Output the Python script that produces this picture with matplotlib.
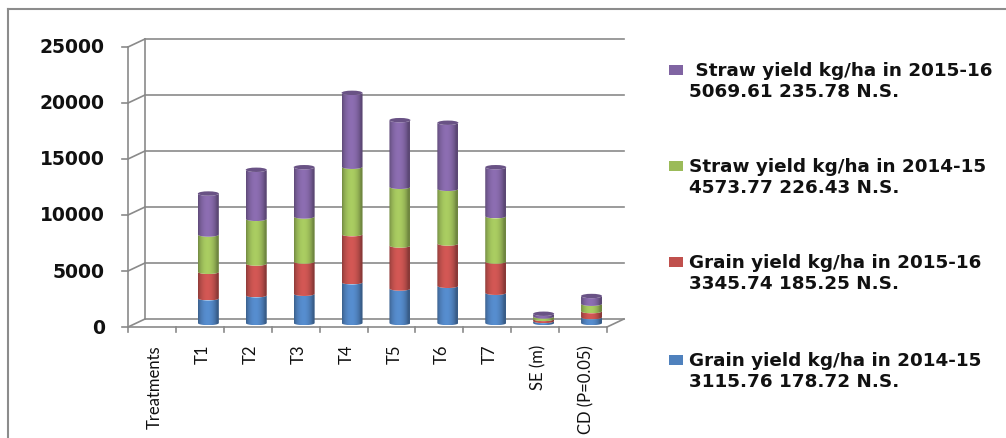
import numpy as np
import matplotlib
matplotlib.use("Agg")
import matplotlib.pyplot as plt
from matplotlib.patches import Polygon, Ellipse
from matplotlib.colors import to_rgb

categories = ["Treatments", "T1", "T2", "T3", "T4", "T5", "T6", "T7", "SE (m)", "CD (P=0.05)"]

grain_1415 = [0, 2210, 2480, 2610, 3640, 3080, 3320, 2700, 178.72, 520]
grain_1516 = [0, 2360, 2830, 2880, 4290, 3840, 3780, 2790, 185.25, 540]
straw_1415 = [0, 3330, 3990, 4020, 6020, 5240, 4880, 4050, 226.43, 660]
straw_1516 = [0, 3660, 4380, 4400, 6600, 5950, 5900, 4370, 235.78, 690]

series = [grain_1415, grain_1516, straw_1415, straw_1516]
colors = ["#4F81BD", "#C0504D", "#9BBB59", "#8064A2"]
legend_lines = [
    ("Grain yield kg/ha in 2014-15", "3115.76 178.72 N.S."),
    ("Grain yield kg/ha in 2015-16", "3345.74 185.25 N.S."),
    ("Straw yield kg/ha in 2014-15", "4573.77 226.43 N.S."),
    (" Straw yield kg/ha in 2015-16", "5069.61 235.78 N.S."),
]
yticks = [0, 5000, 10000, 15000, 20000, 25000]

W, H = 1006, 439
fig = plt.figure(figsize=(W / 100, H / 100), dpi=100)

# front plane of the plot area in pixels
x0, x1 = 128, 607
yb, yt = 328, 48
ax = fig.add_axes([x0 / W, 1 - yb / H, (x1 - x0) / W, (yb - yt) / H])
n = len(categories)
ax.axis("off")

cat_px = (x1 - x0) / n
val_px = (yb - yt) / 25000
dx = 17 / cat_px        # depth offset in category units
dy = 8 / val_px         # depth offset in value units
grid_c = "#8a8a8a"

# back wall gridlines and left wall diagonals
for v in yticks:
    ax.plot([-0.5 + dx, n - 0.5 + dx], [v + dy, v + dy], color=grid_c, lw=1.2, clip_on=False)
    ax.plot([-0.5, -0.5 + dx], [v, v + dy], color=grid_c, lw=1.2, clip_on=False)
    ax.plot([-0.5 - 6 / cat_px, -0.5], [v, v], color=grid_c, lw=1.2, clip_on=False)
    ax.text(-0.5 - 23 / cat_px, v, f"{v}", ha="right", va="center",
            fontsize=13.5, fontweight="bold", color="#111111")
ax.plot([-0.5 + dx, -0.5 + dx], [dy, 25000 + dy], color=grid_c, lw=1.2, clip_on=False)
ax.plot([-0.5, -0.5], [0, 25000], color=grid_c, lw=1.2, clip_on=False)
# floor front edge and right diagonal
ax.plot([-0.5, n - 0.5], [0, 0], color=grid_c, lw=1.2, clip_on=False)
ax.plot([n - 0.5, n - 0.5 + dx], [0, dy], color=grid_c, lw=1.2, clip_on=False)
for i in range(n + 1):
    ax.plot([i - 0.5, i - 0.5], [0, -5 / val_px], color=grid_c, lw=1.2, clip_on=False)

# category labels
for i, lab in enumerate(categories):
    ax.text(i + 0.06, -17 / val_px, lab, rotation=90, ha="center", va="top",
            fontsize=12, family=["Lato", "DejaVu Sans"], color="#111111")

# cylinders
bw = 21 / cat_px
ry = 2.2 / val_px
t = np.linspace(0, 1, 64)
shade = 0.72 + 0.38 * np.sin(np.pi * np.clip(t * 1.1, 0, 1)) ** 0.7
theta = np.linspace(np.pi, 2 * np.pi, 40)

for i in range(n):
    if sum(s[i] for s in series) == 0:
        continue
    xc = i + dx / 2
    bottom = dy / 2
    for s, c in zip(series, colors):
        top = bottom + s[i]
        xs = xc + bw / 2 * np.cos(theta)
        lo = bottom + ry * np.sin(theta)
        hi = top + ry * np.sin(theta)
        pts = np.vstack([np.column_stack([xs, lo]), np.column_stack([xs[::-1], hi[::-1]])])
        poly = Polygon(pts, closed=True, facecolor="none", edgecolor="none")
        ax.add_patch(poly)
        rgb = np.array(to_rgb(c))
        img = np.clip(shade[None, :, None] * rgb[None, None, :], 0, 1)
        im = ax.imshow(img, extent=[xc - bw / 2, xc + bw / 2, bottom - ry, top + ry],
                       aspect="auto", interpolation="bilinear", zorder=3)
        im.set_clip_path(poly)
        bottom = top
    cap = np.clip(np.array(to_rgb(colors[-1])) * 0.82, 0, 1)
    ax.add_patch(Ellipse((xc, bottom), bw, 2 * ry, facecolor=cap, edgecolor="none", zorder=4))

ax.set_xlim(-0.5, n - 0.5)
ax.set_ylim(0, 25000)

# legend (top entry is the last series)
leg_y = [70.7, 166.7, 263, 360.7]
for yy, idx in zip(leg_y, [3, 2, 1, 0]):
    fig.patches.append(plt.Rectangle((669 / W, 1 - (yy + 5) / H), 14 / W, 10 / H,
                                     transform=fig.transFigure, facecolor=colors[idx],
                                     edgecolor="none"))
    l1, l2 = legend_lines[idx]
    fig.text(689 / W, 1 - yy / H, l1, ha="left", va="center",
             fontsize=13.2, fontweight="bold", color="#111111")
    fig.text(689 / W, 1 - (yy + 21) / H, l2, ha="left", va="center",
             fontsize=13.2, fontweight="bold", color="#111111")

# outer chart frame (partly cut off)
fig.add_artist(plt.Line2D([8 / W, 8 / W], [0, 1 - 10 / H], color="#8c8c8c", lw=1.5,
                          transform=fig.transFigure))
fig.add_artist(plt.Line2D([8 / W, 1], [1 - 10 / H, 1 - 10 / H], color="#8c8c8c", lw=1.5,
                          transform=fig.transFigure))

fig.savefig("out.png", dpi=100)
